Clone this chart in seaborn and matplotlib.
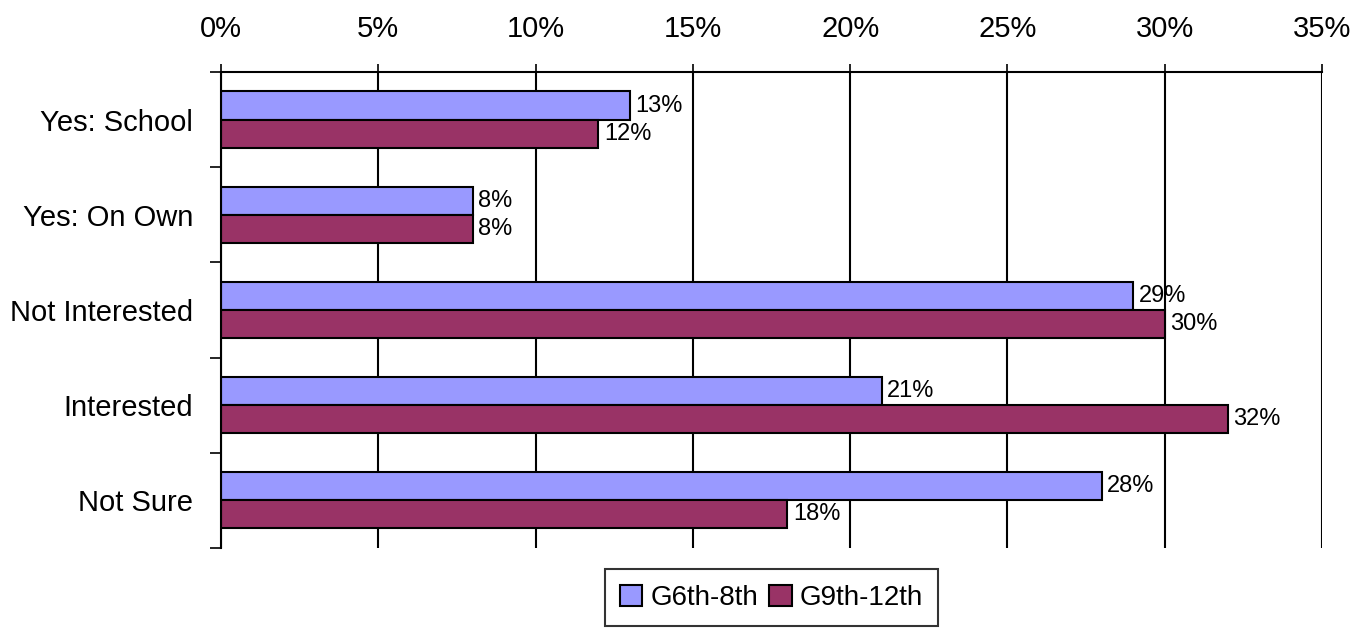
import matplotlib
matplotlib.use("Agg")
import matplotlib.pyplot as plt
import matplotlib.ticker as mticker
import seaborn as sns
import pandas as pd
import numpy as np

categories = ["Yes: School", "Yes: On Own", "Not Interested", "Interested", "Not Sure"]
groups = ["G6th-8th", "G9th-12th"]
g6_8 = [13, 8, 29, 21, 28]
g9_12 = [12, 8, 30, 32, 18]
xticks = [0, 5, 10, 15, 20, 25, 30, 35]
colors = ["#9999FF", "#993366"]

df = pd.DataFrame({
    "category": categories * 2,
    "group": [groups[0]] * len(categories) + [groups[1]] * len(categories),
    "value": g6_8 + g9_12,
})

sns.set_theme(style="white")
plt.rcParams["font.family"] = ["Liberation Sans", "DejaVu Sans"]
plt.rcParams["text.color"] = "black"

fig = plt.figure(figsize=(13.65, 6.28), dpi=100)
ax = fig.add_axes([0.1619, 0.1274, 0.8066, 0.758])

sns.barplot(data=df, y="category", x="value", hue="group", order=categories,
            hue_order=groups, palette=colors, orient="h", width=0.59,
            edgecolor="black", linewidth=1.5, saturation=1, ax=ax, legend=True)

ax.set_xlim(0, 35)
ax.set_ylim(len(categories) - 0.5, -0.5)
ax.set_xticks(xticks)
ax.xaxis.set_major_formatter(mticker.FuncFormatter(lambda v, p: f"{v:.0f}%"))
ax.xaxis.tick_top()
ax.tick_params(axis="x", which="major", top=True, bottom=False, length=6, width=1.2,
               color="black", pad=15, labelsize=21, labelcolor="black", direction="out")
ax.set_xlabel("")
ax.set_ylabel("")

# category labels centred, separator ticks between categories
ax.set_yticks(range(len(categories)))
ax.set_yticklabels(categories)
ax.tick_params(axis="y", which="major", length=0, pad=20, labelsize=21, labelcolor="black")
ax.set_yticks(np.arange(-0.5, len(categories), 1.0), minor=True)
ax.tick_params(axis="y", which="minor", left=True, length=8, width=1.2, color="black",
               direction="out")

ax.grid(axis="x", color="black", linewidth=1.5)
ax.grid(axis="y", visible=False)
ax.set_axisbelow(True)

for side in ["right", "bottom"]:
    ax.spines[side].set_visible(False)
for side in ["left", "top"]:
    ax.spines[side].set_color("black")
    ax.spines[side].set_linewidth(1.5)

for container in ax.containers:
    ax.bar_label(container, labels=[f"{v:.0f}%" for v in container.datavalues],
                 padding=4, fontsize=17, color="black")

leg = ax.legend(loc="upper center", bbox_to_anchor=(0.5, -0.045), ncol=2,
                frameon=True, fancybox=False, fontsize=20, handlelength=0.8,
                handleheight=0.8, handletextpad=0.3, columnspacing=0.4,
                borderpad=0.55, borderaxespad=0)
leg.get_frame().set_edgecolor("black")
leg.get_frame().set_linewidth(1.5)
for txt in leg.get_texts():
    txt.set_color("black")

fig.savefig("out.png", dpi=100, facecolor="white")
